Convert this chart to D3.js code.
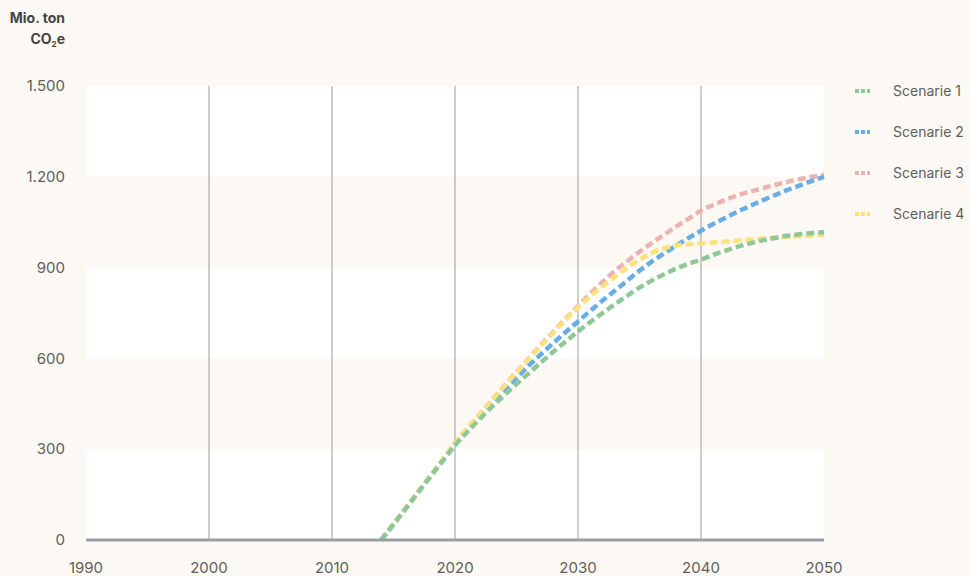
<!DOCTYPE html>
<html><head><meta charset="utf-8">
<script src="https://cdn.jsdelivr.net/npm/d3@7"></script>
<style>
html,body{margin:0;padding:0;background:#fcf8f3;}
svg{display:block;font-family:Inter,"Noto Sans",sans-serif;}
</style></head>
<body>
<script>
const years = d3.range(2014, 2051);
const seriesNames = ["Scenarie 1","Scenarie 2","Scenarie 3","Scenarie 4"];
const seriesColors = ["#8fc898","#68ade6","#ebb3b1","#fde27c"];
const scenarie1 = [0,52,104,157,209,261,313,357,399,440,478,515,551,587,622,656,689,720,750,779,807,834,857,878,897,913,926,942,956,969,980,990,998,1005,1010,1014,1017];
const scenarie2 = [0,52,105,158,211,264,316,362,407,451,494,536,576,614,651,687,722,757,791,824,857,890,920,947,973,998,1022,1044,1065,1085,1104,1122,1139,1156,1171,1186,1200];
const scenarie3 = [0,53,106,159,212,266,320,368,415,462,509,555,600,645,688,731,773,814,853,889,921,952,981,1009,1036,1062,1088,1107,1124,1139,1151,1162,1173,1183,1192,1200,1206];
const scenarie4 = [0,53,106,159,212,266,320,367,414,461,507,553,598,642,685,728,768,805,838,869,899,926,948,964,973,977,980,983,986,989,993,996,999,1002,1004,1006,1008];
const xTicks = [1990,2000,2010,2020,2030,2040,2050];
const yTicks = [0,300,600,900,1200,1500];
const values = [scenarie1, scenarie2, scenarie3, scenarie4];
const drawOrder = [2,1,3,0];

const W = 970, H = 576;
const svg = d3.select("body").append("svg").attr("width", W).attr("height", H);
const x = d3.scaleLinear().domain([1990, 2050]).range([86, 824]);
const y = d3.scaleLinear().domain([0, 1500]).range([540, 86]);
const fmt = d3.formatLocale({decimal: ",", thousands: ".", grouping: [3], currency: ["", " kr."]}).format(",d");

// bands
for (let i = 0; i < yTicks.length - 1; i++) {
  svg.append("rect").attr("x", x(1990)).attr("width", x(2050) - x(1990))
    .attr("y", y(yTicks[i+1])).attr("height", y(yTicks[i]) - y(yTicks[i+1]))
    .attr("fill", i % 2 === 0 ? "#ffffff" : "#fcf8f3");
}
// vertical grid
svg.append("g").selectAll("line").data(xTicks.slice(1, -1)).join("line")
  .attr("x1", d => x(d)).attr("x2", d => x(d)).attr("y1", y(1500)).attr("y2", y(0))
  .attr("stroke", "#9b9b9b").attr("stroke-width", 1);

// y labels
svg.append("g").selectAll("text").data(yTicks).join("text")
  .attr("x", 65).attr("y", d => y(d)).attr("dy", "0.35em")
  .attr("text-anchor", "end").attr("font-size", 15).attr("fill", "#5f5f5f")
  .text(d => fmt(d));
// x labels
svg.append("g").selectAll("text").data(xTicks).join("text")
  .attr("x", d => x(d)).attr("y", 573)
  .attr("text-anchor", "middle").attr("font-size", 15).attr("fill", "#5f5f5f")
  .text(d => d);

// title
const t = svg.append("text").attr("x", 65).attr("y", 23).attr("text-anchor", "end")
  .attr("font-size", 14).attr("font-weight", 700).attr("fill", "#444").text("Mio. ton");
const t2 = svg.append("text").attr("x", 65).attr("y", 44).attr("text-anchor", "end")
  .attr("font-size", 14).attr("font-weight", 700).attr("fill", "#444");
t2.append("tspan").text("CO");
t2.append("tspan").attr("font-size", 8).attr("dy", 3).text("2");
t2.append("tspan").attr("dy", -3).text("e");

// lines
const line = d3.line().x((d, i) => x(years[i])).y(d => y(d)).curve(d3.curveMonotoneX);
drawOrder.forEach(k => {
  svg.append("path").datum(values[k]).attr("d", line)
    .attr("fill", "none").attr("stroke", seriesColors[k])
    .attr("stroke-width", 4.5).attr("stroke-dasharray", "8,4");
});

// baseline
svg.append("line").attr("x1", x(1990)).attr("x2", x(2050)).attr("y1", y(0)).attr("y2", y(0))
  .attr("stroke", "#9a9ea3").attr("stroke-width", 3);

// legend
const lg = svg.append("g").selectAll("g").data(seriesNames).join("g")
  .attr("transform", (d, i) => `translate(855,${91 + i * 41})`);
lg.append("line").attr("x1", 0).attr("x2", 15).attr("y1", 0).attr("y2", 0)
  .attr("stroke", (d, i) => seriesColors[i]).attr("stroke-width", 4).attr("stroke-dasharray", "4,2");
lg.append("text").attr("x", 38).attr("dy", "0.35em").attr("font-size", 14).attr("fill", "#5f5f5f").text(d => d);
</script>
</body></html>
